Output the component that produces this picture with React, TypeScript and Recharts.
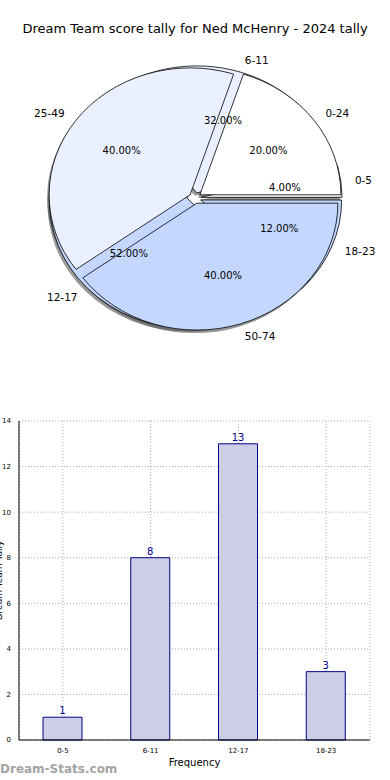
import { PieChart, Pie, BarChart, Bar, XAxis, YAxis, CartesianGrid, LabelList } from 'recharts';

// tally buckets (counts) and the wider score bands, both
const tallyBuckets = ['0-5', '6-11', '12-17', '18-23'];
const tallyCounts = [1, 8, 13, 3];
const scoreBands = ['0-24', '25-49', '50-74'];
const scoreShares = [20, 40, 40];
const yTicks = [0, 2, 4, 6, 8, 10, 12, 14];

const tallyColors = ['#ffffff', '#eaf0ff', '#c4d8ff', '#c4d8ff'];
const bandColors = ['#ffffff', '#eaf0ff', '#c4d8ff'];

const tallyData = tallyBuckets.map((name, i) => ({ name, value: tallyCounts[i] }));
const bandData = scoreBands.map((name, i) => ({ name, value: scoreShares[i] }));

const FONT = '"DejaVu Sans", sans-serif';
const RATIO = 0.9; // pie is drawn squashed, like the matplotlib original
const EXPLODE = 0.043;
const RAD = Math.PI / 180;

const pt = (cx: number, cy: number, r: number, a: number) => [
  cx + r * Math.cos(a * RAD),
  cy - r * RATIO * Math.sin(a * RAD),
];

const wedge = (colors: string[], shadow = false) => (p: any) => {
  const { cx, cy, outerRadius: r, startAngle, endAngle, index } = p;
  const mid = (startAngle + endAngle) / 2;
  let [ox, oy] = pt(cx, cy, r * EXPLODE, mid);
  if (shadow) {
    ox -= 2;
    oy += 3;
  }
  const [x1, y1] = pt(ox, oy, r, startAngle);
  const [x2, y2] = pt(ox, oy, r, endAngle);
  const large = endAngle - startAngle > 180 ? 1 : 0;
  const d = `M${ox},${oy} L${x1},${y1} A${r},${r * RATIO} 0 ${large} 0 ${x2},${y2} Z`;
  if (shadow) return <path key={`s${index}`} d={d} fill="#555" fillOpacity={0.6} stroke="none" />;
  return <path key={`w${index}`} d={d} fill={colors[index]} stroke="#000" strokeWidth={0.8} />;
};

const texts = (p: any) => {
  const { cx, cy, outerRadius: r, midAngle, percent, name, index } = p;
  const [ox, oy] = pt(cx, cy, r * EXPLODE, midAngle);
  const [px, py] = pt(ox, oy, r * 0.6, midAngle);
  const [nx, ny] = pt(ox, oy, r * 1.1, midAngle);
  const left = Math.cos(midAngle * RAD) < 0;
  return (
    <g key={`t${index}`}>
      <text x={px} y={py} textAnchor="middle" dominantBaseline="central" fontSize={10} fill="#000" fontFamily={FONT}>
        {(percent * 100).toFixed(2)}%
      </text>
      <text x={nx} y={ny} textAnchor={left ? 'end' : 'start'} dominantBaseline="central" fontSize={10.5} fill="#000" fontFamily={FONT}>
        {name}
      </text>
    </g>
  );
};

const pieCommon = {
  dataKey: 'value',
  nameKey: 'name',
  cx: 195,
  cy: 198,
  outerRadius: 141,
  startAngle: 0,
  endAngle: 360,
  fill: 'none',
  stroke: 'none',
  labelLine: false,
  isAnimationActive: false,
};

const YLabel = (props: any) => {
  const { viewBox } = props;
  const cy = viewBox.y + viewBox.height / 2;
  return (
    <text x={2} y={cy} transform={`rotate(-90, 2, ${cy})`} textAnchor="middle" fontSize={9} fill="#000" fontFamily={FONT}>
      Dream Team Tally
    </text>
  );
};

export default function App() {
  return (
    <div style={{ position: 'absolute', left: 0, top: 0, width: 390, height: 780, background: '#fff', fontFamily: FONT }}>
      <div style={{ position: 'absolute', top: 21, width: 390, textAlign: 'center', fontSize: 13, color: '#000' }}>
        Dream Team score tally for Ned McHenry - 2024 tally
      </div>
      <div style={{ position: 'absolute', top: 0, left: 0 }}>
        <PieChart width={390} height={400} margin={{ top: 0, right: 0, bottom: 0, left: 0 }}>
          <Pie {...pieCommon} data={tallyData} label={wedge(tallyColors, true)} />
          <Pie {...pieCommon} data={bandData} label={wedge(bandColors, true)} />
          <Pie {...pieCommon} data={tallyData} label={wedge(tallyColors)} />
          <Pie {...pieCommon} data={bandData} label={wedge(bandColors)} />
          <Pie {...pieCommon} data={tallyData} label={texts} />
          <Pie {...pieCommon} data={bandData} label={texts} />
        </PieChart>
      </div>
      <div style={{ position: 'absolute', top: 410, left: 0 }}>
        <BarChart
          width={390}
          height={360}
          data={tallyData}
          margin={{ top: 11, right: 20, left: 0, bottom: 0 }}
        >
          <CartesianGrid stroke="#aaa" strokeDasharray="1 2" />
          <XAxis
            dataKey="name"
            height={30}
            tick={{ fontSize: 7, fill: '#000' }}
            tickLine={false}
            tickMargin={2}
            axisLine={{ stroke: '#000' }}
            label={{ value: 'Frequency', position: 'insideBottom', offset: 4, fontSize: 10, fill: '#000' }}
          />
          <XAxis xAxisId="top" orientation="top" dataKey="name" height={0} tick={false} tickLine={false} axisLine={{ stroke: '#000' }} />
          <YAxis
            domain={[0, 14]}
            ticks={yTicks}
            width={19}
            tick={{ fontSize: 7, fill: '#000' }}
            tickLine={false}
            tickMargin={2}
            axisLine={{ stroke: '#000' }}
            label={<YLabel />}
          />
          <YAxis yAxisId="right" orientation="right" domain={[0, 14]} width={0} tick={false} tickLine={false} axisLine={{ stroke: '#000' }} />
          <Bar dataKey="value" barSize={39} fill="#cdcde6" stroke="#00008b" strokeWidth={1} isAnimationActive={false}>
            <LabelList dataKey="value" position="top" offset={3} fontSize={10} fill="#00008b" />
          </Bar>
        </BarChart>
      </div>
      <div style={{ position: 'absolute', left: 0, top: 762, fontSize: 12, fontWeight: 'bold', color: '#a3a3a3' }}>
        Dream-Stats.com
      </div>
    </div>
  );
}
